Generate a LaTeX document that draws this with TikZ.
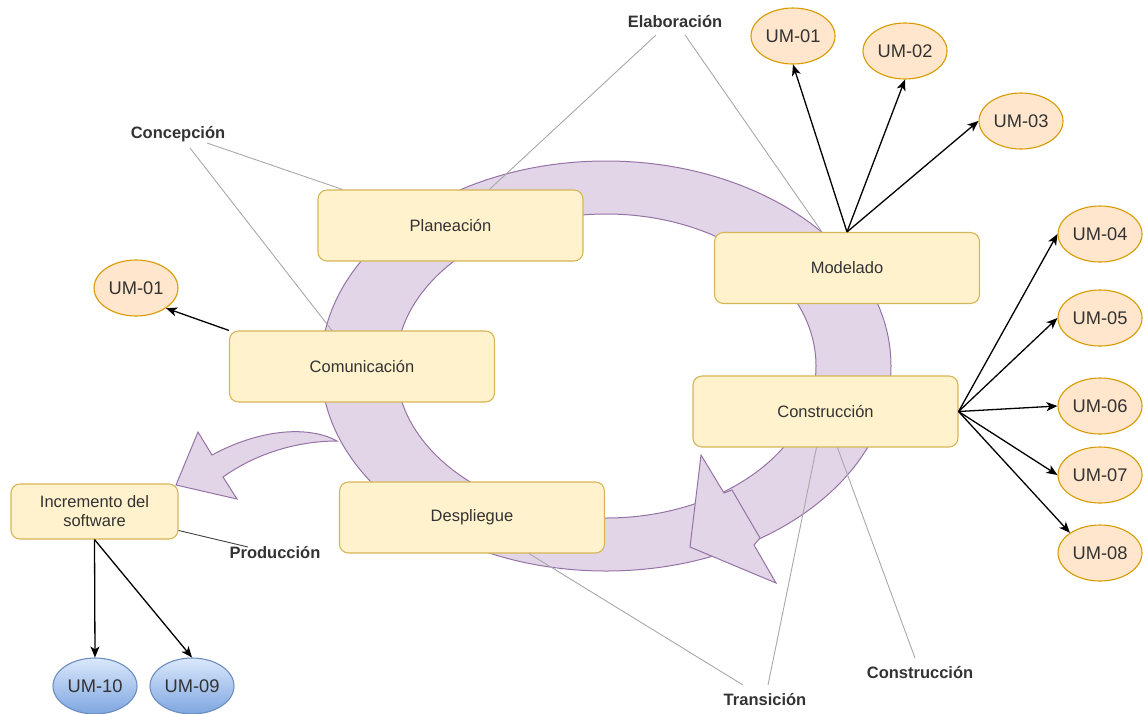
\documentclass[tikz,border=0pt]{standalone}
\usepackage{fontspec}
\setmainfont{Liberation Sans}
\usetikzlibrary{arrows.meta,shapes.geometric,calc}
\definecolor{boxfill}{HTML}{FFF2CC}
\definecolor{boxdraw}{HTML}{D6B656}
\definecolor{ringfill}{HTML}{E1D5E7}
\definecolor{ringdraw}{HTML}{9673A6}
\definecolor{umfill}{HTML}{FFE6CC}
\definecolor{umdraw}{HTML}{D79B00}
\definecolor{bluetop}{HTML}{DAE8FC}
\definecolor{bluebot}{HTML}{7EA6E0}
\definecolor{bluedraw}{HTML}{6C8EBF}
\definecolor{txt}{HTML}{333333}
\definecolor{guidecol}{HTML}{A8A8A8}
\begin{document}
\begin{tikzpicture}[x=1pt,y=-1pt,
  phase/.style={draw=boxdraw, fill=boxfill, rounded corners=9pt, line width=1.1pt,
    minimum width=265pt, minimum height=71pt, inner sep=0pt, text=txt,
    font=\fontsize{16.5}{19}\selectfont, align=center},
  um/.style={ellipse, draw=umdraw, fill=umfill, line width=1.1pt,
    minimum width=84pt, minimum height=56pt, inner sep=0pt, text=txt,
    font=\fontsize{18.3}{21}\selectfont},
  umblue/.style={um, draw=bluedraw, top color=bluetop, bottom color=bluebot},
  tag/.style={inner sep=0pt, text=txt, font=\fontsize{16.5}{19}\selectfont\bfseries},
  guide/.style={draw=guidecol, line width=0.9pt},
  arr/.style={draw=black, line width=1.3pt, -{Stealth[length=11pt,width=9pt,inset=3pt]}},
  band/.style={fill=ringfill, draw=ringdraw, line width=1pt, line join=miter}
]
\useasboundingbox (0,0) rectangle (1145,713);

% circular process band
\path[band, even odd rule]
  (606,366) ellipse [x radius=285pt, y radius=205pt]
  (606,366) ellipse [x radius=210pt, y radius=152pt];
% its arrow head
\path[band] (701,455) -- (724,493) -- (732,490) -- (760,538) -- (754,545)
  -- (776,583) -- (690,547) -- cycle;
% curved arrow toward the software increment
\path[band] (337,441) .. controls (310,426) and (262,428) .. (212,455)
  -- (198,432) -- (176,485) -- (237,499) -- (223,477)
  .. controls (258,452) and (300,441) .. (337,441) -- cycle;

% phase boxes
\node[phase] (pla) at (450.5,225.5) {Planeación};
\node[phase] (mod) at (847,268) {Modelado};
\node[phase] (com) at (362,366.5) {Comunicación};
\node[phase] (con) at (825.5,411.5) {Construcción};
\node[phase] (des) at (472,517.5) {Despliegue};
\node[phase, minimum width=167pt, minimum height=55pt] (inc) at (94.5,511.5)
  {Incremento del\\software};

% stage labels
\node[tag] (elab) at (675,22) {Elaboración};
\node[tag] (conc) at (178,134) {Concepción};
\node[tag] (prod) at (275,553) {Producción};
\node[tag] (tran) at (765,700) {Transición};
\node[tag] (consl) at (920,673) {Construcción};

% guide lines from labels to phases
\draw[guide] ($(elab)+(-19,13)$) -- ($(pla.north west)+(172,0)$);
\draw[guide] ($(elab)+(10,13)$) -- ($(mod.north west)+(108,0)$);
\draw[guide] ($(conc)+(29,9)$) -- ($(pla.north west)+(25,0)$);
\draw[guide] ($(conc)+(12,14)$) -- ($(com.north west)+(103,0)$);
\draw[draw=black!75, line width=0.9pt] ($(inc.north east)+(0,47)$) -- ($(prod)+(-27,-6)$);
\draw[guide] ($(tran)+(-22,-15)$) -- ($(des.south west)+(190,0)$);
\draw[guide] ($(tran)+(3,-15)$) -- ($(con.south west)+(124,0)$);
\draw[guide] ($(consl)+(-5,-15)$) -- ($(con.south west)+(145,0)$);

% use-case ellipses
\node[um] (u1) at (793,36) {UM-01};
\node[um] (u2) at (905,51) {UM-02};
\node[um] (u3) at (1021,121) {UM-03};
\node[um] (u4) at (1100,234) {UM-04};
\node[um] (u5) at (1100,318) {UM-05};
\node[um] (u6) at (1100,406) {UM-06};
\node[um] (u7) at (1100,475) {UM-07};
\node[um] (u8) at (1100,553) {UM-08};
\node[um] (ul) at (136,288) {UM-01};
\node[umblue] (u10) at (95,686) {UM-10};
\node[umblue] (u9) at (192,686) {UM-09};

% links to use cases
\draw[arr] (mod.north) -- (u1.south);
\draw[arr] (mod.north) -- (u2.south);
\draw[arr] (mod.north) -- (u3.west);
\draw[arr] (con.east) -- (u4.west);
\draw[arr] (con.east) -- (u5.west);
\draw[arr] (con.east) -- (u6.west);
\draw[arr] (con.east) -- (u7.west);
\draw[arr] (con.east) -- (u8.north west);
\draw[arr] (com.north west) -- (ul.south east);
\draw[arr] (inc.south) -- (u10.north);
\draw[arr] (inc.south) -- (u9.north);
\end{tikzpicture}
\end{document}
